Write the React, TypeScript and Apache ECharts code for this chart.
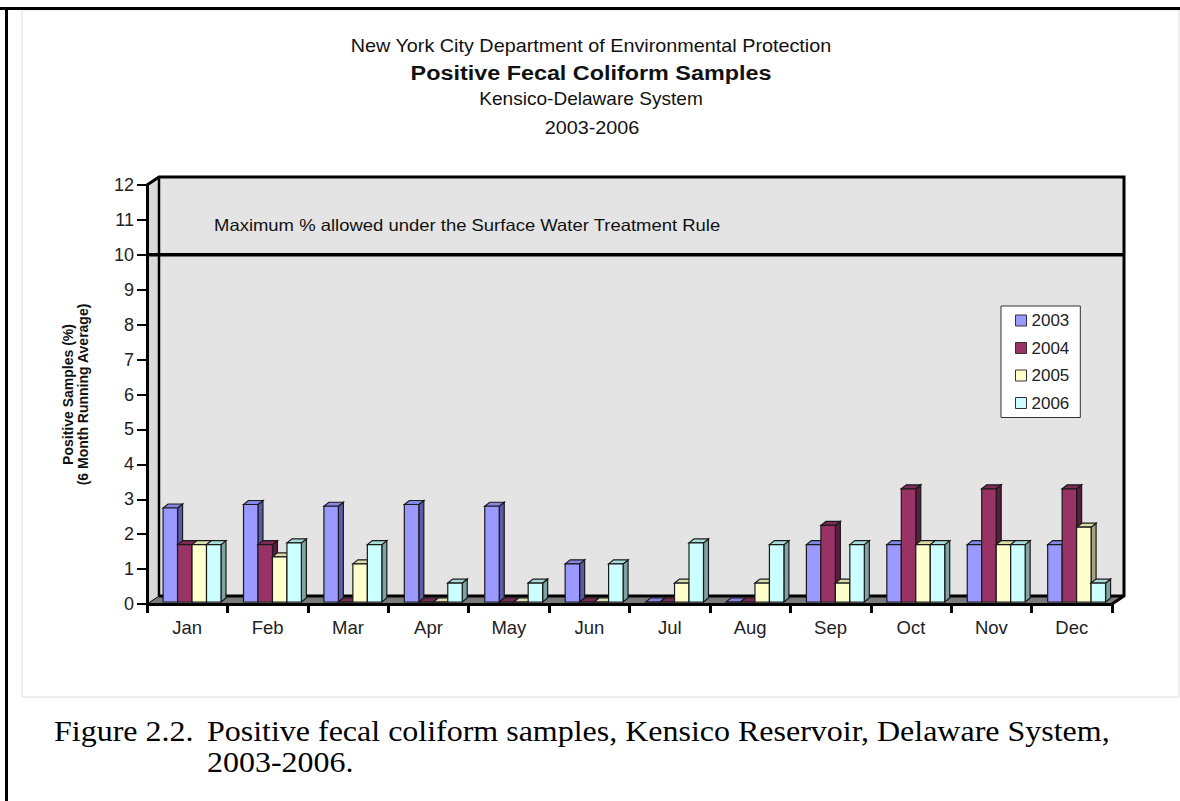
import React, { useEffect, useRef } from 'react';
import * as echarts from 'echarts';

const months = ['Jan', 'Feb', 'Mar', 'Apr', 'May', 'Jun', 'Jul', 'Aug', 'Sep', 'Oct', 'Nov', 'Dec'];
const years = ['2003', '2004', '2005', '2006'];
const v2003 = [2.75, 2.85, 2.8, 2.85, 2.8, 1.15, 0, 0, 1.7, 1.7, 1.7, 1.7];
const v2004 = [1.7, 1.7, 0, 0, 0, 0, 0, 0, 2.25, 3.3, 3.3, 3.3];
const v2005 = [1.7, 1.35, 1.15, 0, 0, 0, 0.6, 0.6, 0.6, 1.7, 1.7, 2.2];
const v2006 = [1.7, 1.75, 1.7, 0.6, 0.6, 1.15, 1.75, 1.7, 1.7, 1.7, 1.7, 0.6];
const seriesValues = [v2003, v2004, v2005, v2006];
const threshold = 10;
const thresholdLabel = 'Maximum % allowed under the Surface Water Treatment Rule';
const titleLines = [
  'New York City Department of Environmental Protection',
  'Positive Fecal Coliform Samples',
  'Kensico-Delaware System',
  '2003-2006',
];
const yAxisName = 'Positive Samples (%)\n(6 Month Running Average)';
const captionLead = 'Figure 2.2.';
const captionLine1 = 'Positive fecal coliform samples, Kensico Reservoir, Delaware System,';
const captionLine2 = '2003-2006.';

const palettes = [
  { front: '#9999ff', top: '#8585e6', side: '#5b5baa' },
  { front: '#993366', top: '#7d2a54', side: '#5a1e3c' },
  { front: '#ffffcc', top: '#dcdcaa', side: '#a3a382' },
  { front: '#ccffff', top: '#a9dcdc', side: '#7fa3a3' },
];

const SANS = '"Liberation Sans", Arial, Helvetica, sans-serif';
const SERIF = '"Liberation Serif", "Times New Roman", serif';
const DX = 12;
const DY = 8;

const makeBarRender = (k: number) => (params: any, api: any) => {
  const cat = api.value(0);
  const val = api.value(1);
  const base = api.coord([cat, 0]);
  const tp = api.coord([cat, val]);
  const bw = api.size([1, 0])[0];
  const w = bw * 0.18;
  const x = base[0] + bw * (-0.3 + 0.18 * k);
  const yb = base[1] - 2;
  const yt = Math.min(tp[1], yb);
  const dx = 5;
  const dy = 4;
  const c = palettes[k];
  const st = { stroke: '#1a1a1a', lineWidth: 1.2 };
  return {
    type: 'group',
    children: [
      {
        type: 'polygon',
        shape: { points: [[x + w, yt], [x + w + dx, yt - dy], [x + w + dx, yb - dy], [x + w, yb]] },
        style: { fill: c.side, ...st },
      },
      {
        type: 'polygon',
        shape: { points: [[x, yt], [x + dx, yt - dy], [x + w + dx, yt - dy], [x + w, yt]] },
        style: { fill: c.top, ...st },
      },
      {
        type: 'rect',
        shape: { x, y: yt, width: w, height: yb - yt },
        style: { fill: c.front, ...st },
      },
    ],
  };
};

const wallsRender = (params: any) => {
  const cs = params.coordSys;
  const gx = cs.x;
  const gy = cs.y;
  const gw = cs.width;
  const gh = cs.height;
  return {
    type: 'group',
    children: [
      { type: 'rect', shape: { x: gx + DX, y: gy - DY, width: gw, height: gh }, style: { fill: '#e4e4e4' } },
      {
        type: 'polygon',
        shape: { points: [[gx, gy], [gx + DX, gy - DY], [gx + DX, gy + gh - DY], [gx, gy + gh]] },
        style: { fill: '#dadada' },
      },
      {
        type: 'polygon',
        shape: { points: [[gx, gy + gh], [gx + DX, gy + gh - DY], [gx + gw + DX, gy + gh - DY], [gx + gw, gy + gh]] },
        style: { fill: '#7a7a7a', stroke: '#000', lineWidth: 1 },
      },
      {
        type: 'line',
        shape: { x1: gx + DX, y1: gy + gh - DY, x2: gx + gw + DX, y2: gy + gh - DY },
        style: { stroke: '#000', lineWidth: 3 },
      },
      {
        type: 'line',
        shape: { x1: gx + DX, y1: gy - DY, x2: gx + DX, y2: gy + gh - DY },
        style: { stroke: '#000', lineWidth: 2.5 },
      },
      {
        type: 'polyline',
        shape: {
          points: [[gx, gy], [gx + DX, gy - DY], [gx + gw + DX, gy - DY], [gx + gw + DX, gy + gh - DY], [gx + gw, gy + gh]],
        },
        style: { stroke: '#000', lineWidth: 3, fill: null },
      },
    ],
  };
};

const thresholdRender = (params: any, api: any) => {
  const cs = params.coordSys;
  const y = api.coord([0, api.value(1)])[1];
  return {
    type: 'line',
    shape: { x1: cs.x, y1: y, x2: cs.x + cs.width + DX, y2: y },
    style: { stroke: '#000', lineWidth: 3.5 },
  };
};

export default function App() {
  const ref = useRef<HTMLDivElement>(null);
  useEffect(() => {
    if (!ref.current) return;
    const chart = echarts.init(ref.current, undefined, { renderer: 'svg' });
    const barSeries = years.map((y, k) => ({
      name: y,
      type: 'custom',
      coordinateSystem: 'cartesian2d',
      renderItem: makeBarRender(k),
      data: seriesValues[k].map((v, i) => [i, v]),
      itemStyle: { color: palettes[k].front },
      z: 2,
      silent: true,
    }));
    const option: any = {
      animation: false,
      backgroundColor: '#ffffff',
      grid: { left: 147, right: 68, top: 185, bottom: 197, containLabel: false },
      legend: {
        data: years.map((y) => ({ name: y, icon: 'rect' })),
        orient: 'vertical',
        left: 1001,
        top: 306,
        padding: [6, 11, 6, 14],
        itemWidth: 11,
        itemHeight: 11,
        itemGap: 10.5,
        backgroundColor: '#ffffff',
        borderColor: '#333',
        borderWidth: 1,
        selectedMode: false,
        itemStyle: { borderColor: '#333', borderWidth: 1 },
        textStyle: { fontSize: 17, fontFamily: SANS, color: '#222', lineHeight: 17 },
        z: 20,
      },
      xAxis: {
        type: 'category',
        data: months,
        z: 10,
        axisLine: { lineStyle: { color: '#000', width: 3 } },
        axisTick: { show: true, length: 9, lineStyle: { color: '#000', width: 3 } },
        axisLabel: { fontSize: 18.5, color: '#222', margin: 14, fontFamily: SANS },
        splitLine: { show: false },
      },
      yAxis: {
        type: 'value',
        min: 0,
        max: 12,
        interval: 1,
        z: 10,
        name: yAxisName,
        nameLocation: 'middle',
        nameGap: 57,
        nameRotate: 90,
        nameTextStyle: { fontSize: 14, fontWeight: 'bold', lineHeight: 15, color: '#111', fontFamily: SANS },
        axisLine: { show: true, lineStyle: { color: '#000', width: 3 } },
        axisTick: { show: true, length: 10, lineStyle: { color: '#000', width: 2 } },
        axisLabel: { fontSize: 18, color: '#222', margin: 13, fontFamily: SANS },
        splitLine: { show: false },
      },
      series: [
        {
          name: 'walls',
          type: 'custom',
          coordinateSystem: 'cartesian2d',
          renderItem: wallsRender,
          data: [[0, 0]],
          z: 1,
          silent: true,
        },
        ...barSeries,
        {
          name: 'threshold',
          type: 'custom',
          coordinateSystem: 'cartesian2d',
          renderItem: thresholdRender,
          data: [[0, threshold]],
          z: 3,
          silent: true,
        },
      ],
      graphic: [
        { type: 'rect', shape: { x: 22, y: 10, width: 1157, height: 687 }, style: { fill: null, stroke: '#dedede', lineWidth: 1 }, z: 0 },
        { type: 'rect', shape: { x: 0, y: 7, width: 1180, height: 3 }, style: { fill: '#000' }, z: 30 },
        { type: 'rect', shape: { x: 5, y: 7, width: 3, height: 794 }, style: { fill: '#000' }, z: 30 },
        {
          type: 'text', x: 591, y: 46, scaleX: 1.1, z: 30,
          style: { text: titleLines[0], font: `18px ${SANS}`, fill: '#111', align: 'center', verticalAlign: 'middle' },
        },
        {
          type: 'text', x: 591, y: 73, scaleX: 1.14, z: 30,
          style: { text: titleLines[1], font: `bold 20.5px ${SANS}`, fill: '#111', align: 'center', verticalAlign: 'middle' },
        },
        {
          type: 'text', x: 591, y: 99, scaleX: 1.06, z: 30,
          style: { text: titleLines[2], font: `18px ${SANS}`, fill: '#111', align: 'center', verticalAlign: 'middle' },
        },
        {
          type: 'text', x: 592, y: 128, scaleX: 1.1, z: 30,
          style: { text: titleLines[3], font: `18px ${SANS}`, fill: '#111', align: 'center', verticalAlign: 'middle' },
        },
        {
          type: 'text', x: 214, y: 225, scaleX: 1.12, z: 30,
          style: { text: thresholdLabel, font: `16.5px ${SANS}`, fill: '#111', align: 'left', verticalAlign: 'middle' },
        },
        {
          type: 'text', x: 54, y: 731, scaleX: 1.066, z: 30,
          style: { text: captionLead, font: `30px ${SERIF}`, fill: '#000', align: 'left', verticalAlign: 'middle' },
        },
        {
          type: 'text', x: 207, y: 731, scaleX: 1.066, z: 30,
          style: { text: captionLine1, font: `30px ${SERIF}`, fill: '#000', align: 'left', verticalAlign: 'middle' },
        },
        {
          type: 'text', x: 207, y: 762, scaleX: 1.066, z: 30,
          style: { text: captionLine2, font: `30px ${SERIF}`, fill: '#000', align: 'left', verticalAlign: 'middle' },
        },
      ],
    };
    chart.setOption(option);
    return () => chart.dispose();
  }, []);
  return <div ref={ref} style={{ position: 'absolute', left: 0, top: 0, width: 1180, height: 801 }} />;
}
